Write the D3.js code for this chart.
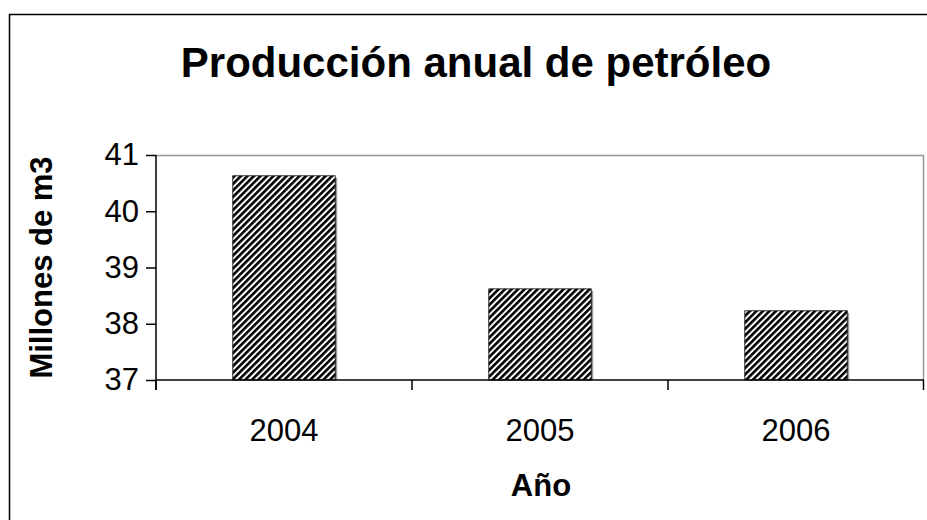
<!DOCTYPE html>
<html>
<head>
<meta charset="utf-8">
<script src="https://cdn.jsdelivr.net/npm/d3@7"></script>
<style>
  body { margin: 0; background: #fff; }
  text { font-family: "Liberation Sans", Arial, sans-serif; fill: #000; }
</style>
</head>
<body>
<div id="chart"></div>
<script>
// data
var years = ["2004", "2005", "2006"];
var produccion = [40.63, 38.62, 38.23];
var yTicks = [37, 38, 39, 40, 41];

var W = 927, H = 520;
var margin = {top: 155, right: 3, bottom: 140, left: 156};
var width = W - margin.left - margin.right,
    height = H - margin.top - margin.bottom;

var svg = d3.select("#chart").append("svg")
    .attr("width", W)
    .attr("height", H);

// hatch pattern for the bars
var defs = svg.append("defs");
var pat = defs.append("pattern")
    .attr("id", "hatch")
    .attr("patternUnits", "userSpaceOnUse")
    .attr("width", 4.6).attr("height", 6)
    .attr("patternTransform", "rotate(45)");
pat.append("rect").attr("width", 4.6).attr("height", 6).attr("fill", "#fff");
pat.append("rect").attr("width", 2.6).attr("height", 6).attr("fill", "#000");

// outer chart frame (runs off the page on right / bottom)
svg.append("rect")
    .attr("x", 9.5).attr("y", 14.5)
    .attr("width", W + 10).attr("height", H + 10)
    .attr("fill", "none")
    .attr("stroke", "#000")
    .attr("stroke-width", 1.5);

var g = svg.append("g")
    .attr("transform", "translate(" + margin.left + "," + margin.top + ")");

var x = d3.scaleBand()
    .domain(years)
    .range([0, width])
    .paddingInner(0.6)
    .paddingOuter(0.3);

var xBand = d3.scaleBand().domain(years).range([0, width]);

var y = d3.scaleLinear()
    .domain([37, 41])
    .range([height, 0]);

// plot area border (grey top / right)
g.append("path")
    .attr("d", "M0,0.5H" + (width - 0.5) + "V" + height)
    .attr("fill", "none")
    .attr("stroke", "#999")
    .attr("stroke-width", 1.5);

// bar shadows
g.selectAll(".shadow")
    .data(produccion)
    .enter()
    .append("rect")
      .attr("x", function(d, i) { return x(years[i]) + 2; })
      .attr("y", function(d) { return y(d) + 2; })
      .attr("width", x.bandwidth())
      .attr("height", function(d) { return height - y(d) - 2; })
      .attr("fill", "#999");

// bars
g.selectAll(".bar")
    .data(produccion)
    .enter()
    .append("rect")
      .attr("x", function(d, i) { return x(years[i]); })
      .attr("y", function(d) { return y(d); })
      .attr("width", x.bandwidth())
      .attr("height", function(d) { return height - y(d); })
      .attr("fill", "url(#hatch)")
      .attr("stroke", "#000")
      .attr("stroke-width", 0.8);

// y axis
var yAxis = g.append("g")
    .call(d3.axisLeft(y).tickValues(yTicks).tickSize(10).tickPadding(7).tickFormat(d3.format("d")));
yAxis.select(".domain").attr("stroke", "#000").attr("stroke-width", 1.5).attr("d", "M0,0V" + (height + 10));
yAxis.selectAll(".tick line").attr("stroke", "#000").attr("stroke-width", 1.5);
yAxis.selectAll(".tick text").style("font-size", "31px");

// x axis: ticks between categories
var xAxis = g.append("g")
    .attr("transform", "translate(0," + height + ")");
xAxis.append("line")
    .attr("x1", 0).attr("x2", width)
    .attr("stroke", "#000").attr("stroke-width", 1.5);
xAxis.selectAll(".xt")
    .data(years.concat(["end"]))
    .enter()
    .append("line")
      .attr("x1", function(d, i) { return i < years.length ? xBand(d) : width - 0.5; })
      .attr("x2", function(d, i) { return i < years.length ? xBand(d) : width - 0.5; })
      .attr("y1", 0).attr("y2", 10)
      .attr("stroke", "#000").attr("stroke-width", 1.5);
xAxis.selectAll(".xl")
    .data(years)
    .enter()
    .append("text")
      .attr("x", function(d) { return xBand(d) + xBand.bandwidth() / 2; })
      .attr("y", 61)
      .attr("text-anchor", "middle")
      .style("font-size", "31px")
      .text(function(d) { return d; });

// titles
svg.append("text")
    .attr("x", 476).attr("y", 77)
    .attr("text-anchor", "middle")
    .style("font-size", "42px")
    .style("font-weight", "bold")
    .text("Producción anual de petróleo");

svg.append("text")
    .attr("x", 541).attr("y", 496)
    .attr("text-anchor", "middle")
    .style("font-size", "31px")
    .style("font-weight", "bold")
    .text("Año");

svg.append("text")
    .attr("transform", "translate(52," + (margin.top + height / 2) + ") rotate(-90)")
    .attr("text-anchor", "middle")
    .style("font-size", "31px")
    .style("font-weight", "bold")
    .text("Millones de m3");
</script>
</body>
</html>
